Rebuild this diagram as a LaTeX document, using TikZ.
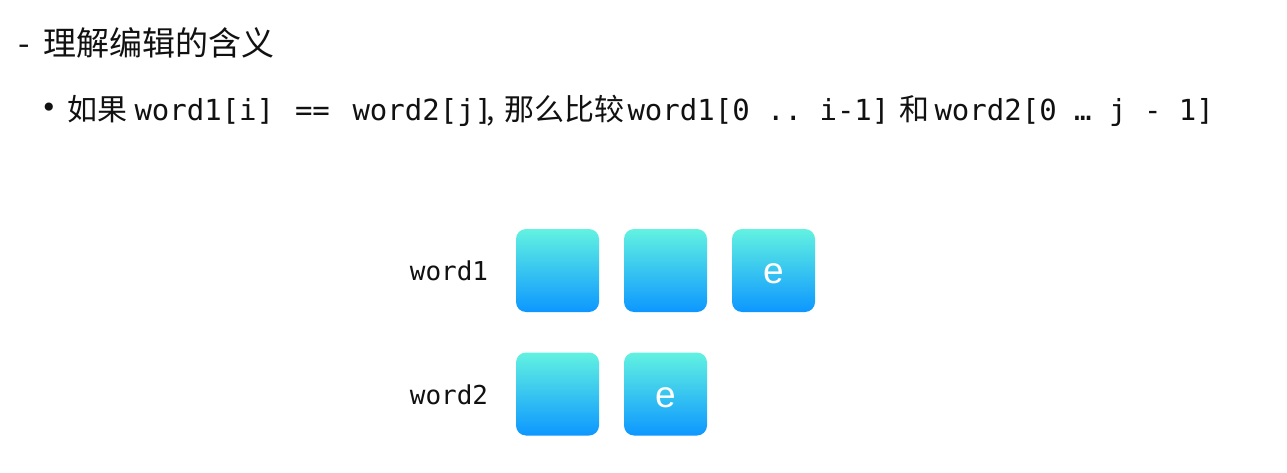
\documentclass[tikz,border=0pt]{standalone}
\usepackage{fontspec}
\setmainfont{Noto Sans CJK SC}
\setmonofont{DejaVu Sans Mono}
\newfontfamily\lettersans{Liberation Sans}
\newfontfamily\dejavu{DejaVu Sans}
\definecolor{celltop}{HTML}{62F2E1}
\definecolor{cellbot}{HTML}{0D97FF}
\definecolor{txt}{HTML}{111111}
\begin{document}
\begin{tikzpicture}[x=1pt,y=-1pt,
  every node/.style={inner sep=0pt,outer sep=0pt,text=txt},
  titletext/.style={anchor=base west,font=\fontsize{33}{33}\selectfont},
  cjktext/.style={anchor=base west,font=\fontsize{30}{30}\selectfont},
  monotext/.style={anchor=base west,font=\fontsize{29}{29}\selectfont\ttfamily},
  rowlabel/.style={anchor=base,font=\fontsize{26}{26}\selectfont\ttfamily},
  cell/.style={minimum width=83pt,minimum height=83pt,rounded corners=10pt,
    top color=celltop,bottom color=cellbot,draw=none},
  letter/.style={anchor=base,text=white,font=\fontsize{37}{37}\selectfont\lettersans}]
\useasboundingbox[fill=white] (0,0) rectangle (1287,473);
% title
\node[titletext] (dash) at (18,56) {-};
\node[titletext] (title) at (43.5,56) {理解编辑的含义};
% bullet line
\node[font=\fontsize{28}{28}\selectfont\dejavu] (bul) at (49,110) {•};
\node[cjktext] (ruguo) at (67,120.5) {如果};
\node[monotext] (m1) at (134.5,120.5) {word1[i]};
\node[monotext] (m2) at (295,120.5) {==};
\node[monotext] (m3) at (352.5,120.5) {word2[j]};
\node[cjktext] (comma) at (486,120.5) {,};
\node[cjktext] (name) at (504,120.5) {那么比较};
\node[monotext] (m4) at (627.5,120.5) {word1[0 .. i-1]};
\node[cjktext] (he) at (899,120.5) {和};
\node[monotext] (m5) at (934.5,120.5) {word2[0 … j - 1]};
% row labels
\node[rowlabel] (w1) at (449,280) {word1};
\node[rowlabel] (w2) at (449,404) {word2};
% cells
\node[cell] (a1) at (557.5,270.5) {};
\node[cell] (a2) at (665.5,270.5) {};
\node[cell] (a3) at (773.5,270.5) {};
\node[cell] (b1) at (557.5,394) {};
\node[cell] (b2) at (665.5,394) {};
\node[letter] (e1) at ([yshift=-12.5pt]a3.center) {e};
\node[letter] (e2) at ([yshift=-13pt]b2.center) {e};
\end{tikzpicture}
\end{document}
